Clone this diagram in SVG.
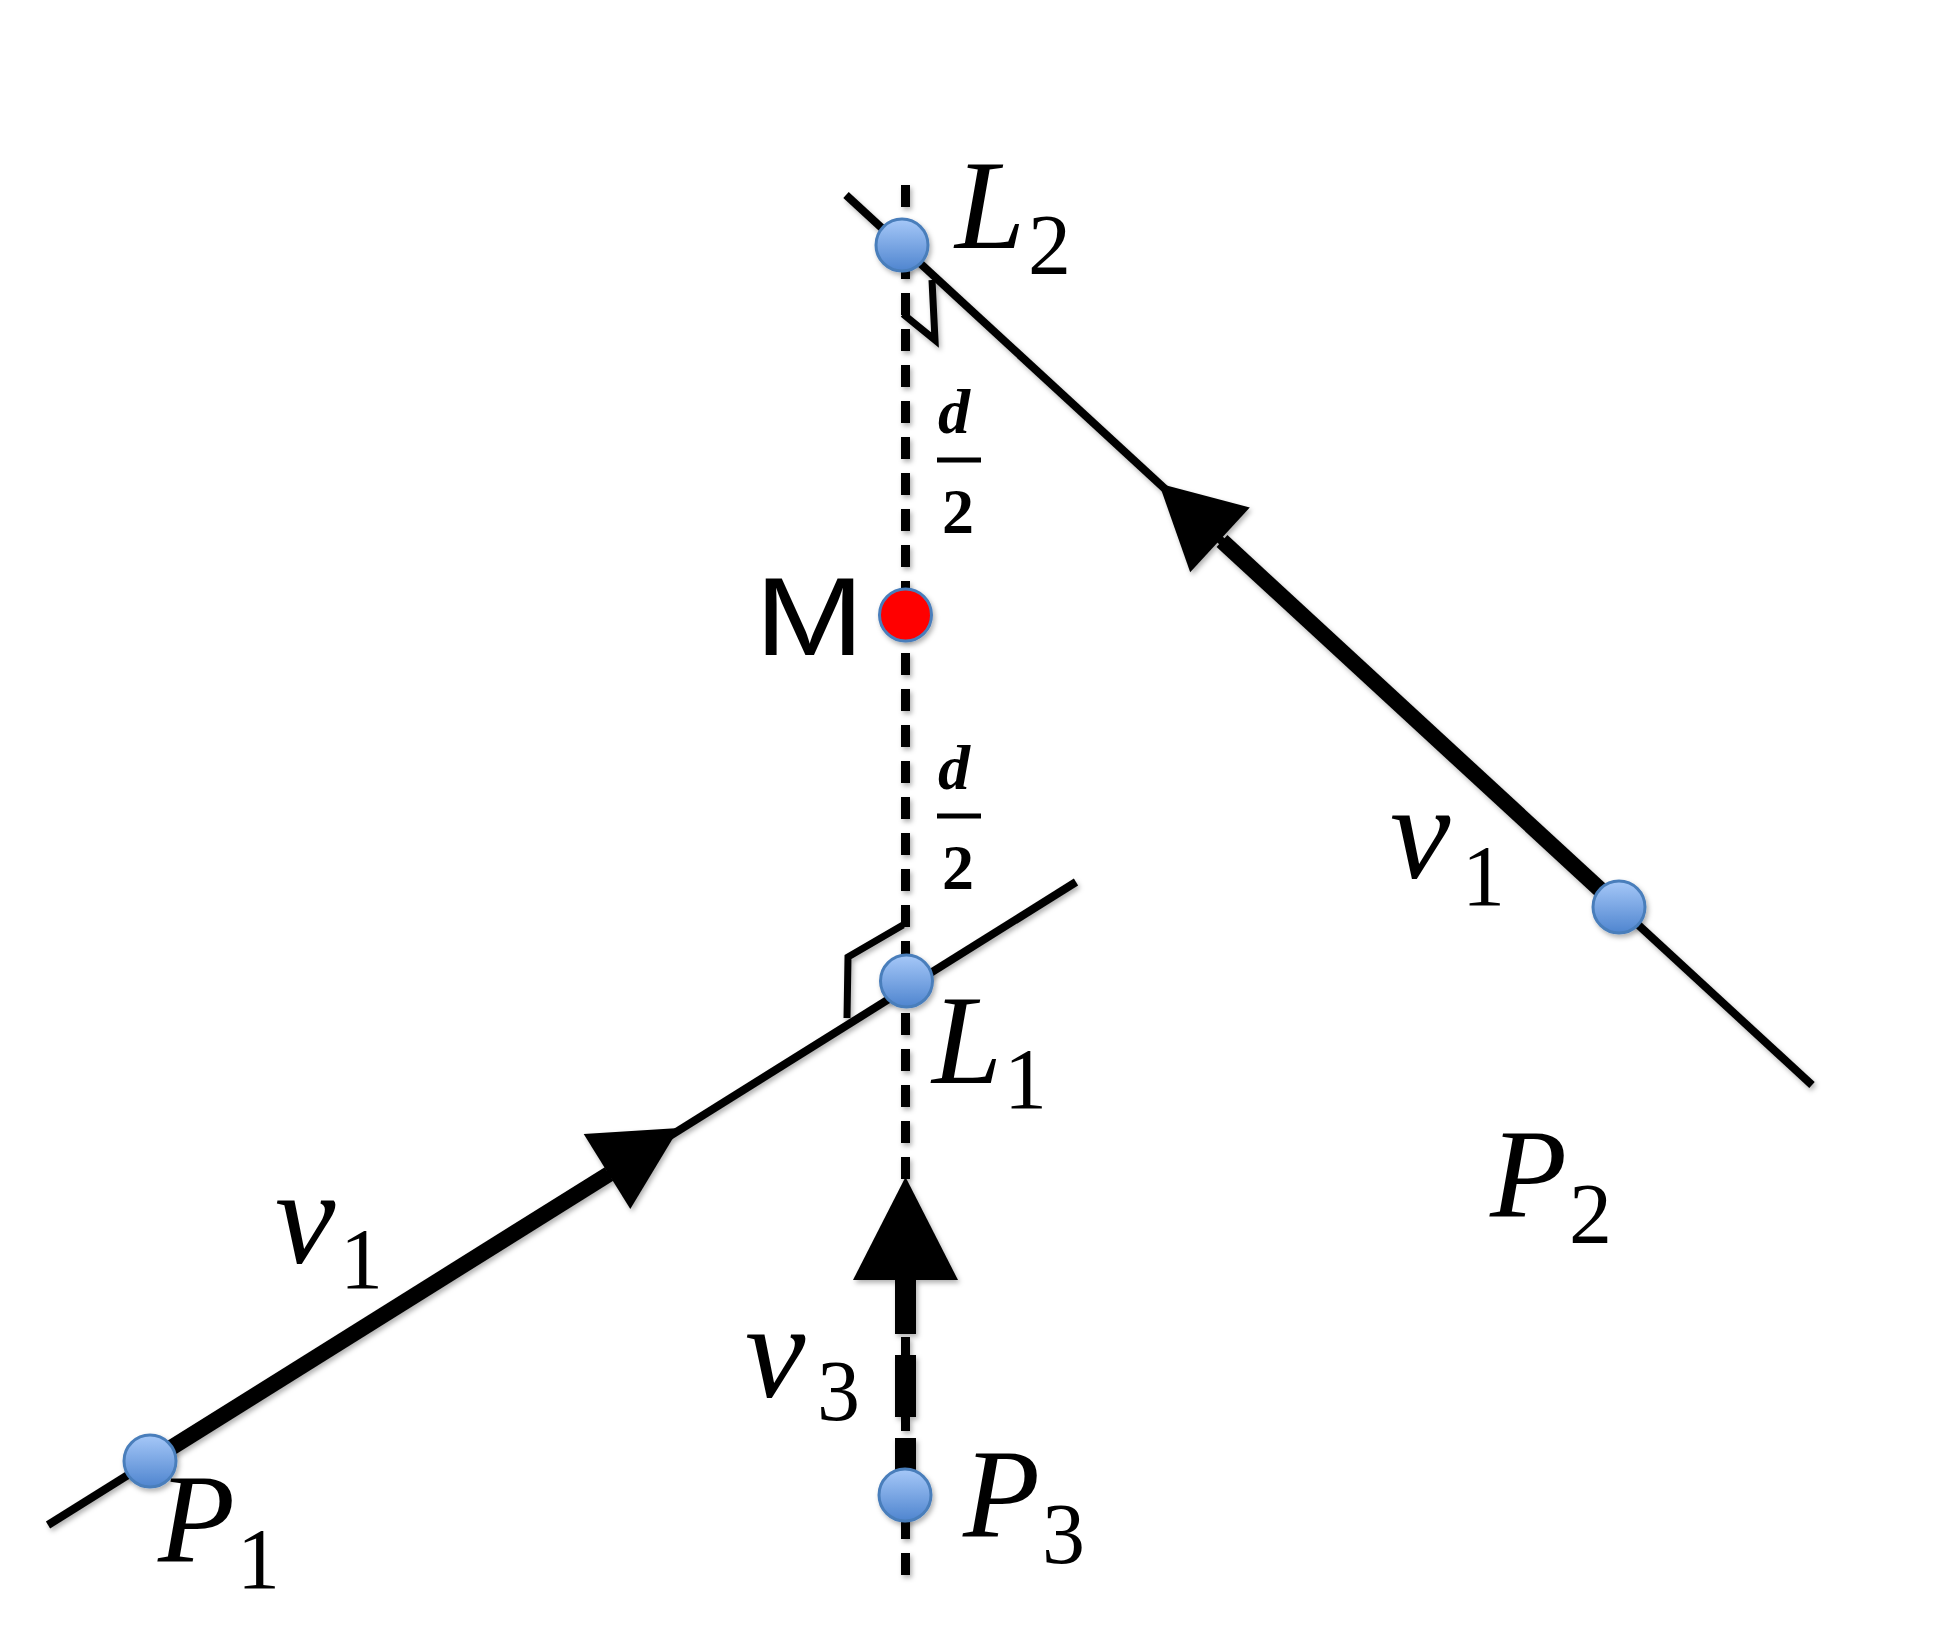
<svg xmlns="http://www.w3.org/2000/svg" width="1943" height="1633" viewBox="0 0 1943 1633">
<defs>
<linearGradient id="blue" x1="0" y1="0" x2="0" y2="1">
<stop offset="0" stop-color="#a6c8f8"/>
<stop offset="1" stop-color="#4f85cf"/>
</linearGradient>
<filter id="sh" x="-20%" y="-20%" width="140%" height="140%">
<feDropShadow dx="2" dy="3" stdDeviation="2.5" flood-color="#000" flood-opacity="0.3"/>
</filter>
</defs>
<style>
.thin{stroke:#000;stroke-width:8;fill:none}
.thick{stroke:#000;stroke-width:16;fill:none}
.dash{stroke:#000;stroke-width:9;stroke-dasharray:22 14;fill:none}
.mark{stroke:#000;stroke-width:7;fill:none}
.head{fill:#000}
.pt{fill:url(#blue);stroke:#4a7ebb;stroke-width:3}
.red{fill:#ff0000;stroke:#4a7ebb;stroke-width:3}
.lbl{font-family:"Liberation Serif",serif;font-style:italic;font-size:126px;fill:#000}
.vv{font-size:136px}
.sub{font-family:"Liberation Serif",serif;font-style:normal;font-size:86px;fill:#000}
.frac{font-family:"Liberation Serif",serif;font-weight:bold;font-size:64px;fill:#000}
.m{font-family:"Liberation Sans",Arial,sans-serif;font-size:112px;fill:#000}
</style>
<rect width="1943" height="1633" fill="#fff"/>
<g id="connectors" filter="url(#sh)">
<line class="dash" x1="905.5" y1="185" x2="905.5" y2="1578"/>
<line class="thin" x1="846" y1="195" x2="1812" y2="1085"/>
<line class="thick" x1="1619" y1="907" x2="1222" y2="541"/>
<polygon class="head" points="1159,483.6 1249.8,507.4 1190.2,572.2"/>
<line class="thin" x1="48" y1="1525" x2="1076" y2="882"/>
<line class="thick" x1="150" y1="1461" x2="609" y2="1174"/>
<polygon class="head" points="679.1,1128 630.3,1209 583.7,1134"/>
<line x1="905.5" y1="1500" x2="905.5" y2="1278" stroke="#000" stroke-width="21" stroke-dasharray="62 21"/>
<polygon class="head" points="905.5,1177 958,1280 853,1280"/>
<polyline class="mark" points="932,280 935,340 903,314"/>
<polyline class="mark" points="847,1018 848,957 903,925"/>
</g>
<g id="node-L2">
<circle class="pt" cx="902" cy="245" r="26" filter="url(#sh)"/>
<text class="lbl" x="955" y="248">L<tspan class="sub" x="1028" y="274">2</tspan></text>
</g>
<g id="node-M">
<circle class="red" cx="905.5" cy="615" r="26" filter="url(#sh)"/>
<text class="m" x="755" y="655" textLength="109" lengthAdjust="spacingAndGlyphs">M</text>
</g>
<g id="node-L1">
<circle class="pt" cx="906.5" cy="981" r="26" filter="url(#sh)"/>
<text class="lbl" x="932" y="1083">L<tspan class="sub" x="1004" y="1108">1</tspan></text>
</g>
<g id="node-P1">
<circle class="pt" cx="150" cy="1461" r="26" filter="url(#sh)"/>
<text class="lbl" x="158" y="1562">P<tspan class="sub" x="237" y="1588">1</tspan></text>
</g>
<g id="node-P2">
<circle class="pt" cx="1619" cy="907" r="26" filter="url(#sh)"/>
<text class="lbl" x="1490" y="1217">P<tspan class="sub" x="1569" y="1243">2</tspan></text>
</g>
<g id="node-P3">
<circle class="pt" cx="905" cy="1495" r="26" filter="url(#sh)"/>
<text class="lbl" x="963" y="1537">P<tspan class="sub" x="1042" y="1563">3</tspan></text>
</g>
<g id="labels">
<text class="lbl vv" x="1390" y="878">v<tspan class="sub" x="1462" y="905">1</tspan></text>
<text class="lbl vv" x="275" y="1263">v<tspan class="sub" x="340" y="1288">1</tspan></text>
<text class="lbl vv" x="745" y="1397">v<tspan class="sub" x="817" y="1420">3</tspan></text>
<text class="frac" x="938" y="433" font-style="italic">d</text>
<line x1="937" y1="460" x2="981" y2="460" stroke="#000" stroke-width="5"/>
<text class="frac" x="942" y="533">2</text>
<text class="frac" x="938" y="789" font-style="italic">d</text>
<line x1="937" y1="816" x2="981" y2="816" stroke="#000" stroke-width="5"/>
<text class="frac" x="942" y="889">2</text>
</g>
</svg>
